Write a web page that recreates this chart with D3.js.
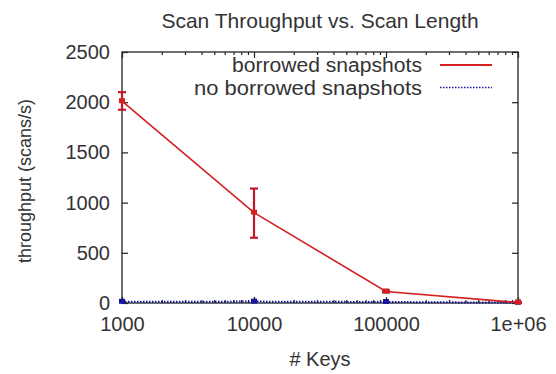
<!DOCTYPE html>
<html>
<head>
<meta charset="utf-8">
<script src="https://cdn.jsdelivr.net/npm/d3@7"></script>
<style>
  html, body { margin: 0; padding: 0; background: #fff; }
  svg { display: block; font-family: "Liberation Sans", Arial, Helvetica, sans-serif; }
</style>
</head>
<body>
<svg id="chart" width="556" height="374"></svg>
<script>
// Scan throughput measured for different key counts
const keys = [1000, 10000, 100000, 1000000];
const borrowed = [2010, 900, 115, 5];
const borrowedLow = [1925, 650, 105, 3];
const borrowedHigh = [2100, 1140, 125, 7];
const noBorrowed = [12, 14, 10, 3];
const yTicks = [0, 500, 1000, 1500, 2000, 2500];
const xTicks = [1000, 10000, 100000, 1000000];
const xTickLabels = ["1000", "10000", "100000", "1e+06"];
const seriesNames = ["borrowed snapshots", "no borrowed snapshots"];

(function draw() {
  const svg = d3.select("#chart");
  const mLeft = 122, mRight = 518, mTop = 52, mBottom = 303;
  const textColor = "#333";
  const tickFont = 20;

  const x = d3.scaleLog().domain([1000, 1000000]).range([mLeft, mRight]);
  const y = d3.scaleLinear().domain([0, 2500]).range([mBottom, mTop]);

  const minorX = [];
  for (let d = 1000; d < 1000000; d *= 10)
    for (let m = 2; m <= 9; m++) minorX.push(d * m);

  const ink = "#222";

  // Frame
  svg.append("rect")
    .attr("x", mLeft).attr("y", mTop)
    .attr("width", mRight - mLeft).attr("height", mBottom - mTop)
    .attr("fill", "none").attr("stroke", ink).attr("stroke-width", 1.3);

  // Left axis with mirrored ticks on the right
  const yAxis = svg.append("g").attr("transform", `translate(${mLeft},0)`)
    .call(d3.axisLeft(y).tickValues(yTicks).tickSize(-6).tickPadding(12).tickFormat(d3.format("d")));
  yAxis.select(".domain").remove();
  yAxis.selectAll("line").attr("stroke", ink).attr("stroke-width", 1.2);
  yAxis.selectAll("text").attr("font-size", tickFont).attr("fill", textColor).attr("font-family", null);

  svg.append("g").attr("transform", `translate(${mRight},0)`)
    .call(d3.axisRight(y).tickValues(yTicks).tickSize(-6).tickFormat(""))
    .call(g => g.select(".domain").remove())
    .selectAll("line").attr("stroke", ink).attr("stroke-width", 1.2);

  // Bottom axis, log scale
  const xAxis = svg.append("g").attr("transform", `translate(0,${mBottom})`)
    .call(d3.axisBottom(x).tickValues(xTicks).tickSize(-6).tickPadding(14)
      .tickFormat((d, i) => xTickLabels[i]));
  xAxis.select(".domain").remove();
  xAxis.selectAll("line").attr("stroke", ink).attr("stroke-width", 1.2);
  xAxis.selectAll("text").attr("font-size", tickFont).attr("fill", textColor).attr("font-family", null);

  svg.append("g").attr("transform", `translate(0,${mBottom})`)
    .call(d3.axisBottom(x).tickValues(minorX).tickSize(-3).tickFormat(""))
    .call(g => g.select(".domain").remove())
    .selectAll("line").attr("stroke", ink).attr("stroke-width", 1.2);

  // Mirrored ticks along the top
  svg.append("g").attr("transform", `translate(0,${mTop})`)
    .call(d3.axisTop(x).tickValues(xTicks).tickSize(-6).tickFormat(""))
    .call(g => g.select(".domain").remove())
    .selectAll("line").attr("stroke", ink).attr("stroke-width", 1.2);
  svg.append("g").attr("transform", `translate(0,${mTop})`)
    .call(d3.axisTop(x).tickValues(minorX).tickSize(-3).tickFormat(""))
    .call(g => g.select(".domain").remove())
    .selectAll("line").attr("stroke", ink).attr("stroke-width", 1.2);

  // Titles
  svg.append("text").attr("x", (mLeft + mRight) / 2).attr("y", 28)
    .attr("text-anchor", "middle").attr("font-size", 21).attr("fill", textColor)
    .text("Scan Throughput vs. Scan Length");
  svg.append("text").attr("x", (mLeft + mRight) / 2).attr("y", 366)
    .attr("text-anchor", "middle").attr("font-size", 20).attr("fill", textColor)
    .text("# Keys");
  svg.append("text")
    .attr("transform", `translate(31,181) rotate(-90)`)
    .attr("text-anchor", "middle").attr("font-size", 18).attr("fill", textColor)
    .text("throughput (scans/s)");

  const red = "#d42020";
  const blue = "#1515a0";

  // No borrowed snapshots series (dotted)
  const blueLine = d3.line().x((d, i) => x(keys[i])).y(d => y(d));
  svg.append("path").datum(noBorrowed)
    .attr("d", blueLine).attr("fill", "none")
    .attr("stroke", blue).attr("stroke-width", 2).attr("stroke-dasharray", "1.5,1.5");
  svg.selectAll(".bpt").data(noBorrowed).join("rect")
    .attr("x", (d, i) => x(keys[i]) - 3).attr("y", d => y(d) - 3)
    .attr("width", 6).attr("height", 5).attr("fill", blue);

  // Borrowed snapshots series with error bars
  const redLine = d3.line().x((d, i) => x(keys[i])).y(d => y(d));
  svg.append("path").datum(borrowed)
    .attr("d", redLine).attr("fill", "none")
    .attr("stroke", red).attr("stroke-width", 1.6);

  const err = svg.append("g").attr("stroke", "#c0182a").attr("stroke-width", 2.2);
  keys.forEach((k, i) => {
    const cx = x(k);
    err.append("line").attr("x1", cx).attr("x2", cx)
      .attr("y1", y(borrowedLow[i])).attr("y2", y(borrowedHigh[i]));
    err.append("line").attr("x1", cx - 4).attr("x2", cx + 4)
      .attr("y1", y(borrowedLow[i])).attr("y2", y(borrowedLow[i]));
    err.append("line").attr("x1", cx - 4).attr("x2", cx + 4)
      .attr("y1", y(borrowedHigh[i])).attr("y2", y(borrowedHigh[i]));
  });
  svg.selectAll(".rpt").data(borrowed).join("rect")
    .attr("x", (d, i) => x(keys[i]) - 3).attr("y", d => y(d) - 3)
    .attr("width", 6).attr("height", 5).attr("fill", red);

  // Legend: label right-aligned next to a line sample
  const legend = [
    { label: seriesNames[0], color: red, dash: null, w: 1.8, len: 190 },
    { label: seriesNames[1], color: blue, dash: "1.5,1.5", w: 1.6, len: 228 }
  ];
  legend.forEach((l, i) => {
    const ly = 65 + i * 22.5;
    svg.append("text").attr("x", 422).attr("y", ly + 7)
      .attr("text-anchor", "end").attr("font-size", 19.5).attr("fill", textColor)
      .attr("textLength", l.len).attr("lengthAdjust", "spacingAndGlyphs")
      .text(l.label);
    svg.append("line").attr("x1", 440).attr("x2", 492).attr("y1", ly).attr("y2", ly)
      .attr("stroke", l.color).attr("stroke-width", l.w)
      .attr("stroke-dasharray", l.dash);
  });
})();
</script>
</body>
</html>
